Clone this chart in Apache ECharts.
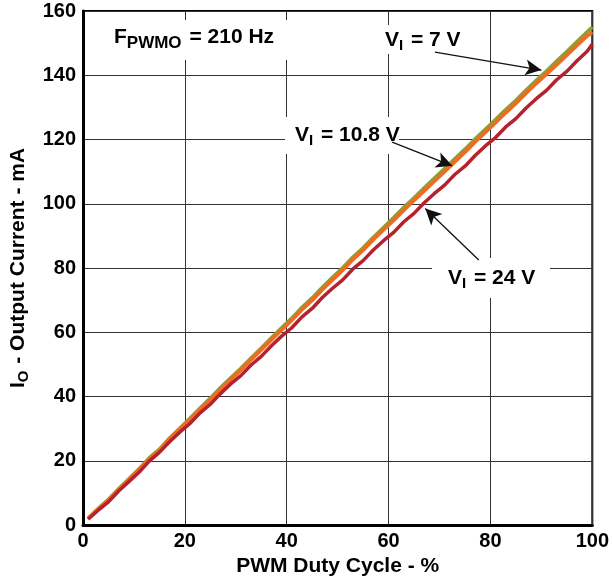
<!DOCTYPE html>
<html><head><meta charset="utf-8">
<script src="https://cdn.jsdelivr.net/npm/echarts@6/dist/echarts.min.js"></script>
<style>html,body{margin:0;padding:0;background:#fff}#c{width:612px;height:582px}</style>
</head><body><div id="c"></div>
<script>
var duty = [1,3,5,7,9,11,13,15,17,19,21,23,25,27,29,31,33,35,37,39,41,43,45,47,49,51,53,55,57,59,61,63,65,67,69,71,73,75,77,79,81,83,85,87,89,91,93,95,97,99,100];
var v7 = [2.1,5.2,8,11.3,14.4,17.5,20.9,23.6,27.1,30.1,33.2,36.4,39.5,42.8,45.8,48.8,52,55.1,58.3,61.4,64.4,67.8,70.7,74,77.1,80.1,83.4,86.3,89.6,92.6,95.7,98.9,101.9,105,108,111,114,117,120.2,123.2,126.2,129.3,132.2,135.4,138.4,141.3,144.4,147.4,150.5,153.5,155];
var v108 = [2,5,7.8,11,14.1,17.1,20.5,23.2,26.7,29.7,32.8,36,38.9,42.2,45.2,48.2,51.4,54.5,57.6,60.7,63.7,67,69.9,73.2,76.3,79.3,82.6,85.5,88.8,91.8,94.8,98,101,104,107,110,113,116,119.2,122.2,125.2,128.3,131.2,134.4,137.4,140.3,143.2,146.2,149.3,152.2,153.4];
var v24 = [1.8,4.6,7.2,10.6,13.5,16.4,19.9,22.6,25.9,28.9,31.6,34.9,37.6,40.9,43.9,46.5,49.8,52.5,55.8,58.8,61.4,64.8,67.4,70.8,73.7,76.3,79.7,82.3,85.6,88.5,91.1,94.4,97,100.3,103.2,105.8,109.1,111.7,115,118,120.6,123.9,126.5,129.8,132.7,135.3,138.6,141.2,144.5,147.5,149.7];
var xTicks = [0,20,40,60,80,100];
var yTicks = [0,20,40,60,80,100,120,140,160];

function pairs(ys){ return duty.map(function(x,i){return [x, ys[i]];}); }
var FONT = 'Liberation Sans, Arial, sans-serif';
var chart = echarts.init(document.getElementById('c'));
var arrowStyle = {color:'#111', width:1.3, type:'solid'};
function arrow(a,b){ return [{coord:a, lineStyle:arrowStyle},{coord:b}]; }
function label(main1, sub, main2, x, y, subSize){
  return {type:'text',x:x,y:y,z:10,style:{text:'{n|'+main1+'}{s|'+sub+'}{n|'+main2+'}',verticalAlign:'middle',
    rich:{n:{fontFamily:FONT,fontWeight:'bold',fontSize:21,fill:'#000'},
          s:{fontFamily:FONT,fontWeight:'bold',fontSize:subSize,fill:'#000',padding:[12,2,0,0]}}}};
}
chart.setOption({
  animation:false,
  backgroundColor:'#fff',
  grid:{left:81,right:19,top:11,bottom:57,show:true,borderColor:'#000',borderWidth:2,containLabel:false},
  xAxis:{type:'value',min:0,max:100,interval:20,
    name:'PWM Duty Cycle - %',nameLocation:'middle',nameGap:30,
    nameTextStyle:{fontFamily:FONT,fontWeight:'bold',fontSize:21,color:'#000'},
    axisLine:{show:true,lineStyle:{color:'#000',width:3}},
    axisTick:{show:false},
    axisLabel:{fontFamily:FONT,fontWeight:'bold',fontSize:20,color:'#000',margin:6},
    splitLine:{show:true,lineStyle:{color:'#333',width:1}}},
  yAxis:{type:'value',min:0,max:160,interval:20,
    name:'{n|I}{s|O}{n| - Output Current - mA}',nameLocation:'middle',nameGap:52,
    nameTextStyle:{fontFamily:FONT,fontWeight:'bold',fontSize:21,color:'#000',
      rich:{n:{fontFamily:FONT,fontWeight:'bold',fontSize:21,color:'#000'},
            s:{fontFamily:FONT,fontWeight:'bold',fontSize:15,color:'#000',padding:[10,1,0,0]}}},
    axisLine:{show:true,lineStyle:{color:'#000',width:3}},
    axisTick:{show:false},
    axisLabel:{fontFamily:FONT,fontWeight:'bold',fontSize:20,color:'#000',margin:7},
    splitLine:{show:true,lineStyle:{color:'#333',width:1}}},
  series:[
    {name:'VI = 7 V',type:'line',data:pairs(v7),symbol:'none',
      lineStyle:{color:'#959a34',width:3.5},z:2},
    {name:'VI = 10.8 V',type:'line',data:pairs(v108),symbol:'none',
      lineStyle:{color:'#f26a22',width:3.5},z:3},
    {name:'VI = 24 V',type:'line',data:pairs(v24),symbol:'none',
      lineStyle:{color:'#b4222e',width:3.5},z:4,
      markLine:{silent:true,symbol:['none','arrow'],symbolSize:[12,16],label:{show:false},
        data:[arrow([69.1,147.2],[90.0,141.6]),arrow([60.7,119.2],[72.5,111.8]),arrow([77.7,82.5],[67.2,98.5])]}}
  ],
  graphic:[
    {type:'rect',shape:{x:105,y:20,width:182,height:40},style:{fill:'#fff'},z:5},
    {type:'rect',shape:{x:378,y:25,width:92,height:29},style:{fill:'#fff'},z:5},
    {type:'rect',shape:{x:285,y:117,width:114,height:37},style:{fill:'#fff'},z:5},
    {type:'rect',shape:{x:432,y:258,width:118,height:40},style:{fill:'#fff'},z:5},
    label('F','PWMO',' = 210 Hz',114,37,17),
    label('V','I',' = 7 V',385,40,15),
    label('V','I',' = 10.8 V',295,135,15),
    label('V','I',' = 24 V',448,278,15)
  ]
});
</script></body></html>
